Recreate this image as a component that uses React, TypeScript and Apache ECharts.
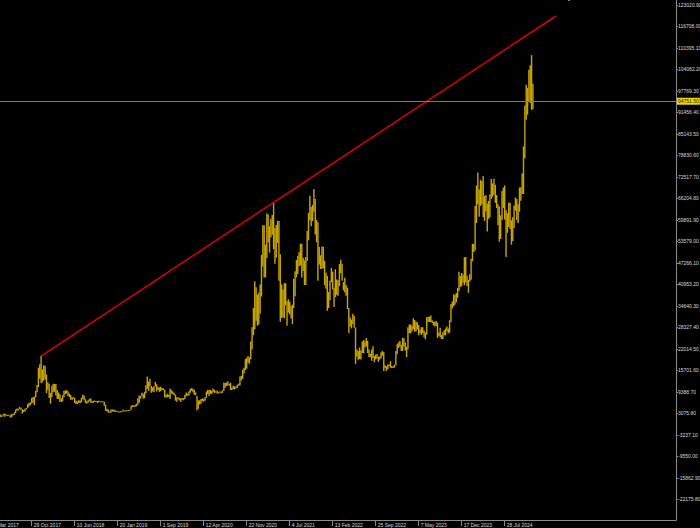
import React, { useEffect, useRef } from "react";
import * as echarts from "echarts";

// Weekly bars, index counted in weeks from 29 Oct 2017 (index 0). First bar = week of 14 May 2017.
const firstWeekIndex = -24;

// Weekly lows (thousands)
const lowK = [
  1.7, 2.0, 2.1, 2.45, 2.1, 2.45, 2.3, 2.45, 1.85, 1.85, 2.45, 2.6, 3.1, 3.8, 3.9, 4.3, 4.1, 2.95, 3.5, 3.65, 4.2, 4.6, 5.1, 5.45,
  6.0, 6.2, 5.5, 7.8, 9.3, 10.8, 13.2, 12.0, 12.2, 12.7,
  13.0, 9.0, 10.0, 7.6, 5.9, 7.8, 9.3, 9.4, 8.3, 7.3,
  7.3, 6.5, 6.4, 6.6, 7.8, 8.7, 8.9, 8.2, 7.9, 7.1,
  7.0, 7.3, 6.1, 5.8, 5.75, 6.1, 6.1, 6.3, 7.3, 6.9,
  6.1, 5.9, 6.2, 6.6, 6.2, 6.1, 6.2, 6.4, 6.4, 6.1,
  6.4, 6.4, 6.3, 6.3, 5.3, 3.8, 3.6, 3.3, 3.2, 3.25,
  3.6, 3.6, 3.5, 3.5, 3.5, 3.35, 3.35, 3.55, 3.6, 3.7,
  3.7, 3.8, 3.9, 3.9, 4.1, 4.9, 4.95, 5.0, 5.1, 5.6,
  6.2, 7.4, 8.1, 7.4, 7.5, 8.9, 10.3, 9.7, 11.0, 9.1,
  9.5, 9.3, 11.0, 9.5, 9.9, 9.4, 9.6, 9.9, 9.9, 7.8,
  7.7, 7.8, 7.9, 7.3, 8.9, 8.7, 8.4, 6.8, 6.5, 7.2,
  6.9, 6.4, 7.1, 6.9, 7.3, 8.1, 8.3, 8.3, 9.1, 9.7,
  9.3, 8.5, 8.4, 3.9, 4.4, 5.7, 5.9, 6.7, 6.5, 6.8,
  7.6, 8.7, 8.1, 8.8, 8.7, 9.3, 9.1, 9.2, 8.9, 8.9,
  9.1, 9.0, 9.1, 9.7, 10.6, 11.1, 11.3, 11.2, 9.9, 9.9,
  10.2, 10.1, 10.4, 10.5, 11.2, 11.3, 12.8, 13.2, 14.8, 15.8,
  16.2, 18.0, 17.6, 19.0, 21.8, 26.0, 27.8, 30.3, 28.8, 29.2,
  32.3, 37.4, 46.2, 43.0, 43.0, 48.7, 53.3, 50.3, 54.7, 55.5,
  51.3, 47.0, 48.8, 53.1, 42.0, 30.0, 31.1, 31.2, 31.0, 34.8,
  28.8, 32.7, 32.1, 31.0, 29.3, 34.0, 37.5, 43.0, 44.0, 46.3,
  46.5, 43.0, 44.9, 40.8, 40.8, 47.8, 53.9, 59.8, 58.0, 59.5,
  62.3, 55.6, 53.3, 42.0, 46.8, 45.5, 45.5, 45.7, 40.7, 39.7,
  33.2, 34.0, 36.3, 41.6, 39.5, 34.3, 37.2, 37.9, 37.6, 40.5,
  44.2, 42.0, 39.2, 38.6, 37.6, 33.7, 26.7, 28.6, 28.0, 29.3,
  28.2, 17.6, 19.7, 18.8, 19.0, 18.9, 20.8, 20.7, 22.4, 22.7,
  20.8, 19.6, 19.6, 18.5, 19.3, 18.1, 18.9, 19.2, 18.2, 18.9,
  19.2, 20.0, 15.5, 16.3, 15.5, 16.0, 16.9, 16.5, 16.4, 16.4,
  16.5, 17.2, 20.4, 22.3, 22.6, 21.4, 21.4, 22.7, 21.5, 19.6,
  21.8, 26.6, 26.6, 27.2, 27.8, 27.1, 27.1, 27.7, 26.0, 26.6,
  26.1, 26.6, 25.4, 24.8, 26.2, 29.9, 29.9, 29.9, 29.6, 28.9,
  28.6, 28.7, 25.2, 25.8, 25.4, 24.9, 24.9, 26.0, 26.0, 27.2,
  26.6, 26.8, 29.9, 33.9, 34.5, 35.0, 35.7, 37.0, 39.0, 40.2,
  40.5, 41.5, 40.7, 41.5, 40.5, 38.5, 41.8, 42.3, 47.7, 50.5,
  50.9, 59.0, 64.5, 60.8, 64.0, 64.5, 60.7, 59.6, 62.4, 56.5,
  60.2, 60.7, 66.1, 66.7, 67.3, 64.9, 63.4, 58.4, 53.5, 54.3,
  59.9, 63.4, 60.0, 49.0, 56.1, 57.8, 57.2, 52.6, 53.6, 57.5,
  62.6, 59.8, 58.9, 62.3, 65.5, 67.5, 67.5, 78.0, 89.3, 90.8,
  94.5, 94.2, 92.2, 92.5,
];

// Weekly highs (thousands)
const highK = [
  2.05, 2.76, 2.55, 2.98, 2.98, 2.78, 2.6, 2.65, 2.55, 2.9, 2.85, 3.3, 4.2, 4.48, 4.4, 4.98, 4.75, 4.3, 4.1, 4.4, 4.65, 5.85, 6.2, 6.3,
  7.6, 7.9, 8.0, 9.7, 11.4, 16.5, 17.5, 19.9, 16.0, 17.2,
  17.0, 14.5, 12.2, 11.8, 9.1, 11.2, 11.8, 11.7, 11.7, 9.9,
  9.2, 8.7, 7.5, 8.4, 9.7, 9.8, 9.9, 9.6, 8.9, 8.5,
  7.8, 7.8, 7.6, 6.8, 6.6, 6.9, 6.85, 7.6, 8.5, 8.3,
  7.2, 6.6, 6.9, 7.4, 7.4, 6.6, 6.8, 6.8, 6.7, 6.7,
  6.8, 6.6, 6.6, 6.6, 6.5, 5.6, 4.4, 4.2, 3.6, 4.2,
  4.25, 4.1, 4.1, 3.8, 3.7, 3.65, 3.7, 3.7, 4.2, 3.9,
  3.9, 4.0, 4.1, 4.15, 5.3, 5.5, 5.4, 5.6, 5.9, 7.5,
  8.3, 8.2, 9.1, 8.8, 9.4, 11.3, 13.9, 12.4, 13.2, 11.1,
  10.7, 11.1, 12.3, 11.6, 10.9, 10.7, 10.9, 10.5, 10.4, 10.1,
  8.5, 8.8, 8.5, 10.4, 9.9, 9.5, 9.1, 8.6, 7.8, 7.8,
  7.6, 7.5, 7.6, 7.5, 8.5, 9.2, 8.9, 9.6, 10.2, 10.5,
  10.3, 10.0, 9.2, 8.2, 6.9, 6.9, 7.3, 7.5, 7.3, 7.8,
  9.5, 10.0, 9.9, 10.0, 9.7, 10.4, 10.0, 9.6, 9.8, 9.3,
  9.5, 9.4, 9.9, 12.1, 12.0, 12.1, 12.5, 11.8, 12.1, 10.6,
  11.2, 11.0, 10.9, 11.5, 11.8, 13.9, 14.1, 15.9, 16.5, 19.0,
  19.4, 19.9, 19.5, 24.2, 28.4, 34.0, 41.9, 40.1, 37.9, 38.5,
  40.9, 49.6, 58.3, 58.3, 52.6, 61.8, 61.5, 58.0, 60.2, 61.3,
  64.9, 57.5, 58.4, 59.6, 59.6, 49.8, 40.9, 39.5, 41.3, 41.3,
  36.0, 36.6, 35.9, 34.6, 35.0, 42.6, 44.8, 48.1, 49.4, 50.5,
  52.9, 52.9, 48.8, 48.0, 49.0, 56.6, 62.0, 67.0, 63.7, 64.3,
  69.0, 66.0, 59.9, 59.2, 51.9, 49.5, 52.1, 52.0, 47.9, 44.4,
  43.5, 38.7, 42.0, 45.8, 44.7, 40.0, 45.4, 42.4, 42.2, 46.9,
  48.2, 47.0, 41.6, 42.9, 40.8, 40.0, 34.0, 31.3, 30.6, 32.3,
  31.7, 28.3, 21.8, 21.4, 22.4, 21.5, 24.2, 24.6, 24.2, 25.2,
  24.4, 21.8, 20.6, 21.8, 22.8, 19.9, 20.3, 20.5, 19.7, 19.8,
  21.0, 21.4, 21.0, 17.2, 16.9, 17.4, 17.4, 18.4, 17.0, 16.9,
  17.4, 21.4, 23.4, 23.9, 24.3, 23.2, 25.3, 25.1, 23.9, 22.6,
  28.4, 29.2, 29.2, 28.8, 31.0, 30.5, 30.0, 29.8, 29.0, 27.6,
  28.4, 28.4, 27.4, 26.8, 31.4, 31.4, 31.5, 31.8, 30.4, 30.0,
  30.0, 30.2, 29.7, 26.8, 28.2, 26.1, 26.9, 27.5, 28.0, 28.6,
  28.0, 30.4, 35.2, 35.9, 38.0, 37.9, 38.4, 39.9, 44.7, 43.4,
  44.3, 43.8, 48.9, 49.0, 43.5, 42.3, 43.9, 48.5, 52.8, 52.9,
  64.0, 70.0, 73.8, 68.8, 71.7, 71.3, 72.8, 66.9, 67.2, 64.7,
  65.5, 67.4, 71.9, 70.6, 72.0, 70.2, 67.2, 64.5, 63.8, 61.2,
  68.4, 69.4, 70.0, 62.7, 61.8, 65.0, 64.9, 59.8, 60.7, 64.1,
  66.5, 66.0, 64.5, 69.4, 69.5, 73.6, 81.5, 93.5, 99.6, 98.7,
  104.0, 105.3, 108.3, 99.9,
];

const xTickWeeks = [-32, 0, 32, 64, 96, 128, 160, 192, 224, 256, 288, 320, 352];
const xTickLabels = [
  "19 Mar 2017", "29 Oct 2017", "10 Jun 2018", "20 Jan 2019", "1 Sep 2019", "12 Apr 2020",
  "22 Nov 2020", "4 Jul 2021", "13 Feb 2022", "25 Sep 2022", "7 May 2023", "17 Dec 2023", "28 Jul 2024",
];
const yTickValues = [
  -22175.8, -15862.9, -9550.0, -3237.1, 3075.8, 9388.7, 15701.6, 22014.5, 28327.4, 34640.3, 40953.2, 47266.1,
  53579.0, 59891.9, 66204.8, 72517.7, 78830.6, 85143.5, 91456.4, 97769.3, 104082.2, 110395.1, 116708.0, 123020.9,
];
const lastPrice = 94751.5;
const trendWeeks = [7, 390.2];
const trendValues = [19900, 119790];

export default function App() {
  const ref = useRef<HTMLDivElement>(null);
  useEffect(() => {
    const chart = echarts.init(ref.current as HTMLDivElement, null, { renderer: "svg" });
    const bars = lowK.map((l, i) => [firstWeekIndex + i, l * 1000, highK[i] * 1000]);
    const trend = trendWeeks.map((w, i) => [w, trendValues[i]]);
    const font = "Liberation Sans, Arial, sans-serif";
    chart.setOption({
      animation: false,
      backgroundColor: "#000000",
      grid: { left: -11.3, right: 24, top: 0, bottom: 8, outerBoundsMode: "none", containLabel: false },
      xAxis: {
        type: "value",
        min: -32,
        max: 479.48,
        splitLine: { show: false },
        axisLine: { show: true, onZero: false, lineStyle: { color: "#8a8a8a", width: 1 } },
        axisTick: { show: true, length: 6, customValues: xTickWeeks, lineStyle: { color: "#8a8a8a" } },
        axisLabel: {
          show: true,
          customValues: xTickWeeks,
          align: "left",
          margin: 2,
          padding: [0, 0, 0, 2],
          color: "#d8d8d8",
          fontSize: 5,
          fontFamily: font,
          formatter: (v: number) => {
            const k = xTickWeeks.indexOf(Math.round(v));
            return k >= 0 ? xTickLabels[k] : "";
          },
        },
      },
      yAxis: {
        type: "value",
        position: "right",
        min: -28255,
        max: 124489.6,
        splitLine: { show: false },
        axisLine: { show: true, onZero: false, lineStyle: { color: "#8a8a8a", width: 1 } },
        axisTick: { show: true, length: 2, customValues: yTickValues, lineStyle: { color: "#8a8a8a" } },
        axisLabel: {
          show: true,
          customValues: yTickValues,
          margin: 2,
          color: "#d8d8d8",
          fontSize: 5,
          fontFamily: font,
          formatter: (v: number) => v.toFixed(2),
        },
      },
      series: [
        {
          type: "custom",
          data: bars,
          encode: { x: 0, y: [1, 2] },
          clip: true,
          renderItem: (params: any, api: any) => {
            const w = api.value(0);
            const top = api.coord([w, api.value(2)]);
            const bot = api.coord([w, api.value(1)]);
            return {
              type: "rect",
              shape: { x: top[0] - 0.7, y: top[1], width: 1.4, height: Math.max(1, bot[1] - top[1]) },
              style: { fill: "#c8a600" },
            };
          },
        },
        {
          type: "line",
          data: trend,
          symbol: "none",
          lineStyle: { color: "#e00000", width: 1.5 },
          silent: true,
          markLine: {
            silent: true,
            symbol: ["none", "none"],
            lineStyle: { color: "#8f7f1c", width: 1, type: "solid" },
            label: {
              show: true,
              position: "end",
              distance: 1,
              formatter: () => lastPrice.toFixed(2),
              backgroundColor: "#ecd800",
              color: "#202020",
              fontSize: 5,
              fontFamily: font,
              padding: [1, 1, 1, 1],
            },
            data: [{ yAxis: lastPrice }],
          },
        },
      ],
      graphic: [
        { type: "rect", shape: { x: 568, y: 0, width: 2, height: 1 }, style: { fill: "#888888" } },
      ],
    });
    return () => chart.dispose();
  }, []);
  return (
    <div
      ref={ref}
      style={{ position: "fixed", left: 0, top: 0, width: 700, height: 528, background: "#000" }}
    />
  );
}
